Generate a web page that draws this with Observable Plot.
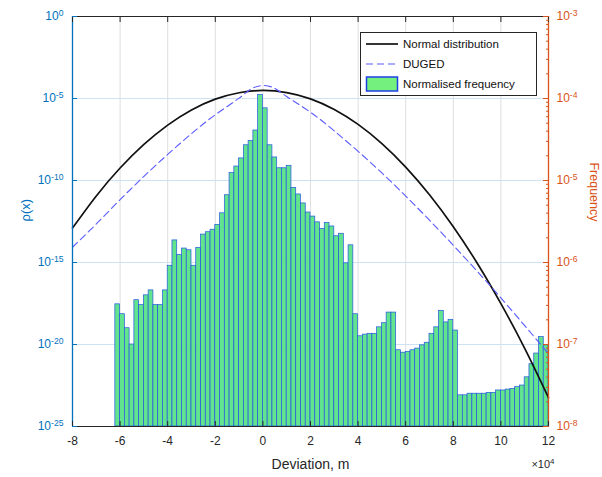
<!DOCTYPE html>
<html>
<head>
<meta charset="utf-8">
<script src="https://cdn.jsdelivr.net/npm/d3@7"></script>
<script src="https://cdn.jsdelivr.net/npm/@observablehq/plot@0.6"></script>
<style>
  body { margin: 0; background: #fff; font-family: "Liberation Sans", Arial, sans-serif; }
  #wrap { position: relative; width: 602px; height: 477px; }
  #legend { position: absolute; left: 360px; top: 32px; }
</style>
</head>
<body>
<div id="wrap"></div>
<script>
// ---------- data ----------
// histogram bins (x in units of 1e4 m)
const binStart = -6.2;
const binWidth = 0.2;
// normalised frequency per bin (right axis)
const freq = [
  3.09e-7, 2.34e-7, 1.58e-7, 1.00e-7, 3.47e-7, 3.02e-7, 3.98e-7, 4.57e-7, 3.02e-7, 3.02e-7,
  4.57e-7, 9.12e-7, 1.86e-6, 1.23e-6, 1.48e-6, 1.41e-6, 9.12e-7, 1.51e-6, 2.19e-6, 2.34e-6,
  2.51e-6, 2.88e-6, 3.98e-6, 6.61e-6, 1.23e-5, 1.48e-5, 1.86e-5, 2.69e-5, 3.02e-5, 4.07e-5,
  1.10e-4, 7.59e-5, 2.69e-5, 1.91e-5, 1.41e-5, 1.41e-5, 1.51e-5, 8.13e-6, 6.76e-6, 5.25e-6,
  4.07e-6, 3.63e-6, 3.09e-6, 2.57e-6, 3.02e-6, 2.75e-6, 2.09e-6, 2.24e-6, 9.77e-7, 1.62e-6,
  2.34e-7, 1.26e-7, 1.32e-7, 1.35e-7, 1.35e-7, 1.62e-7, 1.82e-7, 2.45e-7, 2.45e-7, 8.51e-8,
  7.94e-8, 8.13e-8, 8.51e-8, 8.91e-8, 9.77e-8, 1.05e-7, 1.35e-7, 1.62e-7, 2.57e-7, 1.86e-7,
  2.00e-7, 1.48e-7, 2.40e-8, 2.40e-8, 2.51e-8, 2.51e-8, 2.51e-8, 2.51e-8, 2.57e-8, 2.57e-8,
  2.75e-8, 2.75e-8, 2.82e-8, 2.88e-8, 3.02e-8, 3.16e-8, 3.98e-8, 5.75e-8, 7.76e-8, 1.23e-7,
  9.77e-8
];
// Normal distribution p(x) (left axis)
const normalX = [-8, -7, -6, -5, -4, -3, -2, -1, 0, 1, 2, 3, 4, 5, 6, 7, 8, 9, 10, 11, 12];
const normalP = [1.26e-13, 1.15e-11, 5.75e-10, 1.58e-8, 2.40e-7, 2.00e-6, 9.12e-6, 2.24e-5, 3.09e-5,
  2.29e-5, 9.55e-6, 2.14e-6, 2.63e-7, 1.78e-8, 6.61e-10, 1.35e-11, 1.51e-13, 9.33e-16, 3.09e-18,
  5.75e-21, 5.75e-24];
// DUGED p(x) (left axis)
const dugedX = [-8, -7, -6, -5, -4, -3, -2, -1, -0.5, 0, 0.5, 1, 2, 3, 4, 5, 6, 7, 8, 9, 10, 11, 12];
const dugedP = [8.51e-15, 2.24e-13, 6.76e-12, 1.78e-10, 3.89e-9, 7.24e-8, 1.02e-6, 1.05e-5, 3.80e-5,
  6.17e-5, 4.17e-5, 1.32e-5, 1.45e-6, 1.05e-7, 6.03e-9, 2.88e-10, 1.12e-11, 3.80e-13, 1.12e-14,
  2.95e-16, 6.92e-18, 1.41e-19, 2.75e-21];
// ticks
const xTicks = [-8, -6, -4, -2, 0, 2, 4, 6, 8, 10, 12];
const leftTicks = [1, 1e-5, 1e-10, 1e-15, 1e-20, 1e-25];
const leftTickLabels = ["10^0", "10^-5", "10^-10", "10^-15", "10^-20", "10^-25"];
const rightTickLabels = ["10^-3", "10^-4", "10^-5", "10^-6", "10^-7", "10^-8"];
const legendLabels = ["Normal distribution", "DUGED", "Normalised frequency"];

// ---------- styles ----------
const BLUE = "#0072BD", ORANGE = "#D95319", INK = "#262626";
const BAR_FILL = "#62e38e", BAR_EDGE = "#2456e0";
const DUGED_C = "#5a5aff";

// right axis (1e-3..1e-8) maps onto left axis (1e0..1e-25)
const toLeft = f => Math.pow(10, 5 * (Math.log10(f) + 3));
const bars = freq.map((f, i) => ({
  x1: binStart + i * binWidth,
  x2: binStart + (i + 1) * binWidth,
  p: toLeft(f)
}));
const normal = normalX.map((x, i) => ({x, p: normalP[i]}));
const duged = dugedX.map((x, i) => ({x, p: dugedP[i]}));
const rightMinor = [];
for (let D = -8; D <= -4; D++) for (let m = 2; m <= 9; m++) rightMinor.push(toLeft(m * Math.pow(10, D)));

const chart = Plot.plot({
  width: 602, height: 477,
  marginLeft: 72, marginRight: 54, marginTop: 16, marginBottom: 51,
  style: {fontFamily: "Liberation Sans, Arial, sans-serif", background: "white", overflow: "visible"},
  x: {type: "linear", domain: [-8, 12]},
  y: {type: "log", domain: [1e-25, 1]},
  marks: [
    Plot.ruleX(xTicks.slice(1, -1), {stroke: "#dedede", strokeWidth: 1}),
    Plot.ruleY(leftTicks.slice(1, -1), {stroke: "#cfe2f1", strokeWidth: 1}),
    Plot.rectY(bars, {x1: "x1", x2: "x2", y1: () => 1e-25, y2: "p", fill: BAR_FILL, stroke: BAR_EDGE, strokeWidth: 0.7}),
    Plot.line(normal, {x: "x", y: "p", stroke: "#111", strokeWidth: 1.7, curve: "natural"}),
    Plot.line(duged, {x: "x", y: "p", stroke: DUGED_C, strokeWidth: 1.1, strokeDasharray: "7,4", curve: "natural"}),
    Plot.ruleY([1], {stroke: INK, strokeWidth: 1}),
    Plot.ruleY([1e-25], {stroke: INK, strokeWidth: 1}),
    Plot.ruleX([-8], {stroke: BLUE, strokeWidth: 1.3}),
    Plot.ruleX([12], {stroke: ORANGE, strokeWidth: 1.3}),
    // x axis
    Plot.axisX(xTicks, {anchor: "bottom", tickSize: 5, insetBottom: 5, tickPadding: 10, color: INK, fontSize: 12, tickFormat: d => String(d), label: null}),
    Plot.axisX(xTicks, {anchor: "top", tickSize: 5, insetTop: 5, color: INK, tickFormat: () => "", label: null}),
    // left axis
    Plot.axisY(leftTicks, {anchor: "left", tickSize: 5, insetLeft: 5, tickPadding: 9, color: BLUE, fontSize: 12,
      tickFormat: d => leftTickLabels[leftTicks.indexOf(d)], label: null}),
    // right axis
    Plot.axisY(leftTicks, {anchor: "right", tickSize: 6, insetRight: 6, tickPadding: 8, color: ORANGE, fontSize: 12,
      tickFormat: d => rightTickLabels[leftTicks.indexOf(d)], label: null}),
    Plot.axisY(rightMinor, {anchor: "right", tickSize: 3, insetRight: 3, color: ORANGE, tickFormat: () => "", label: null}),
    // labels
    Plot.text(["Deviation, m"], {frameAnchor: "bottom", dy: 42, fontSize: 14, fill: INK}),
    Plot.text(["×10^4"], {frameAnchor: "bottom-right", dy: 41, dx: 6, textAnchor: "end", fontSize: 11, fill: INK}),
    Plot.text(["ρ(x)"], {frameAnchor: "left", dx: -47, rotate: -90, fontSize: 13, fill: BLUE}),
    Plot.text(["Frequency"], {frameAnchor: "right", dx: 45, rotate: 90, fontSize: 12.5, fill: ORANGE})
  ]
});

// superscripts for "a^b" labels
function supify(root) {
  root.querySelectorAll("text").forEach(t => {
    const nodes = t.querySelectorAll("tspan").length ? [...t.querySelectorAll("tspan")] : [t];
    nodes.forEach(n => {
      const s = n.textContent;
      const m = s.match(/^(.*?)\^(.+)$/);
      if (!m) return;
      n.textContent = m[1];
      const sup = document.createElementNS("http://www.w3.org/2000/svg", "tspan");
      sup.setAttribute("dy", "-0.45em");
      sup.setAttribute("font-size", "0.72em");
      sup.textContent = m[2];
      n.appendChild(sup);
    });
  });
}
supify(chart);
const wrap = document.getElementById("wrap");
wrap.appendChild(chart);

// legend
const lg = d3.select(wrap).append("svg").attr("id", "legend").attr("width", 178).attr("height", 65)
  .style("font-family", "Liberation Sans, Arial, sans-serif");
lg.append("rect").attr("x", 0.5).attr("y", 0.5).attr("width", 176).attr("height", 63)
  .attr("fill", "white").attr("stroke", INK).attr("stroke-width", 1);
const rows = lg.selectAll("g").data(legendLabels).join("g").attr("transform", (d, i) => `translate(0,${12 + i * 20})`);
rows.filter((d, i) => i === 0).append("line").attr("x1", 6).attr("x2", 38).attr("stroke", "#111").attr("stroke-width", 1.7);
rows.filter((d, i) => i === 1).append("line").attr("x1", 6).attr("x2", 38).attr("stroke", DUGED_C).attr("stroke-width", 1.1).attr("stroke-dasharray", "7,4");
rows.filter((d, i) => i === 2).append("rect").attr("x", 6.5).attr("y", -7).attr("width", 31).attr("height", 14)
  .attr("fill", "#74f07f").attr("stroke", "#1d3fe6").attr("stroke-width", 1.5);
rows.append("text").attr("x", 43).attr("dy", "0.35em").attr("font-size", 11.5).attr("fill", "#111").text(d => d);
</script>
</body>
</html>
